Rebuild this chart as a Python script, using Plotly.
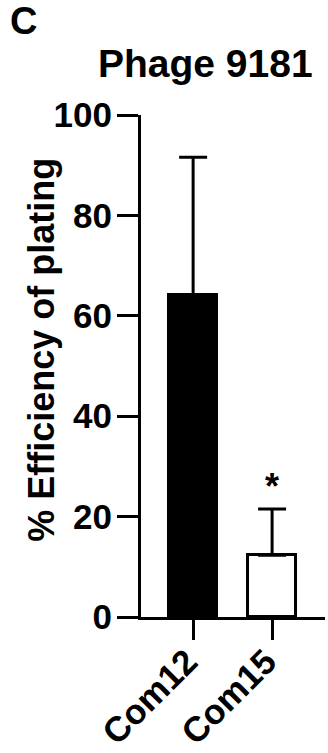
import plotly.graph_objects as go

categories = ["Com12", "Com15"]
means = [64.1, 12.3]
sds = [27.5, 9.2]
fill_colors = ["#000000", "#ffffff"]
y_ticks = [0, 20, 40, 60, 80, 100]
title_text = "Phage 9181"
y_title = "% Efficiency of plating"
panel_label = "C"
sig_marks = ["", "*"]

FONT = "Liberation Sans, Arial, sans-serif"

fig = go.Figure()
fig.add_trace(go.Bar(
    x=list(range(len(categories))),
    y=means,
    width=0.6,
    marker=dict(color=fill_colors, line=dict(color="black", width=3)),
    error_y=dict(type="data", array=sds, arrayminus=[0] * len(sds), symmetric=False,
                 color="black", thickness=3, width=14),
    showlegend=False,
))

for i, m in enumerate(sig_marks):
    if m:
        fig.add_annotation(x=i, y=means[i] + sds[i], xref="x", yref="y", text=m,
                           showarrow=False, yanchor="bottom", yshift=0,
                           font=dict(family=FONT, size=36, color="black", weight="bold"))

fig.add_annotation(x=-0.723, y=1.0, xref="paper", yref="paper", text=panel_label,
                   showarrow=False, xanchor="left", yanchor="top", yshift=117,
                   font=dict(family=FONT, size=38, color="black", weight="bold"))
fig.add_annotation(x=0.353, y=1.0, xref="paper", yref="paper", text=title_text,
                   showarrow=False, xanchor="center", yanchor="bottom", yshift=28,
                   font=dict(family=FONT, size=39, color="black", weight="bold"))
fig.add_annotation(x=-0.545, y=0.5, xref="paper", yref="paper", text=y_title,
                   showarrow=False, textangle=-90, xanchor="center", yanchor="middle",
                   yshift=16,
                   font=dict(family=FONT, size=36, color="black", weight="bold"))

fig.update_layout(
    width=328, height=753,
    margin=dict(l=141, r=3, t=115, b=136, pad=0, autoexpand=False),
    paper_bgcolor="white", plot_bgcolor="white",
    font=dict(family=FONT, color="black"),
    bargap=0,
)
fig.update_xaxes(
    range=[-0.66, 1.67], tickmode="array", tickvals=list(range(len(categories))),
    ticktext=categories, tickangle=-45, automargin=False,
    ticklabelstandoff=-13, ticklabelshift=-6,
    showline=True, linecolor="black", linewidth=3,
    ticks="outside", ticklen=20, tickwidth=3, tickcolor="black",
    showgrid=False, zeroline=False,
    tickfont=dict(family=FONT, size=35, color="black", weight="bold"),
)
fig.update_yaxes(
    range=[0, 100], tickmode="array", tickvals=y_ticks, automargin=False,
    ticklabelstandoff=-2,
    showline=True, linecolor="black", linewidth=3,
    ticks="outside", ticklen=21, tickwidth=3, tickcolor="black",
    showgrid=False, zeroline=False,
    tickfont=dict(family=FONT, size=35, color="black", weight="bold"),
)

fig.write_html("out.html")
